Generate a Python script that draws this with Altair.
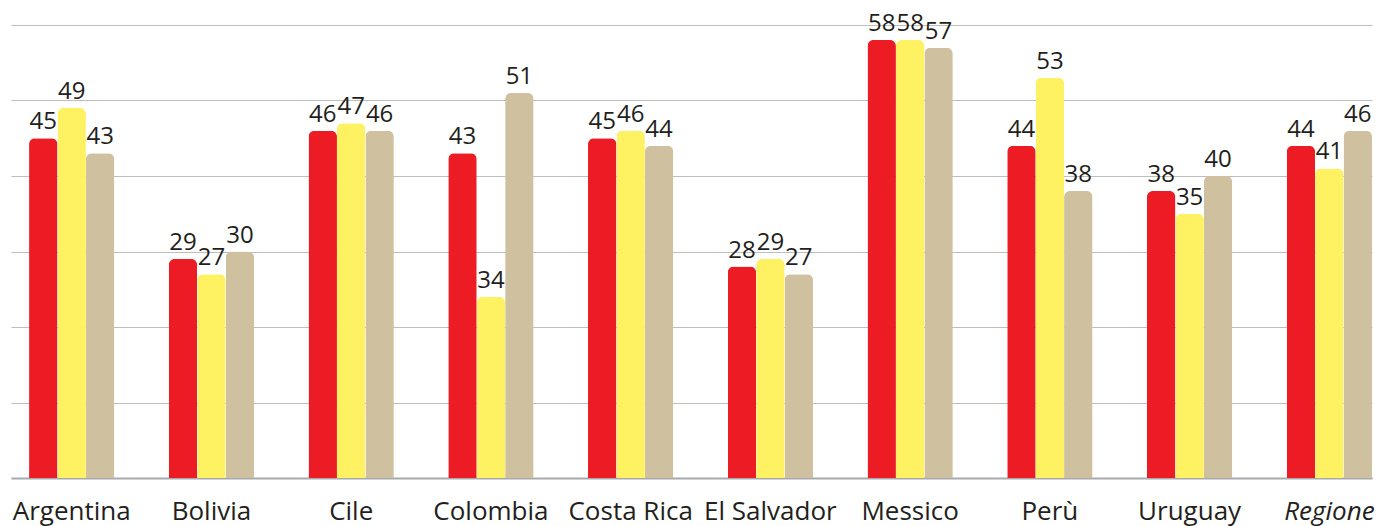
import altair as alt
import pandas as pd

countries = ["Argentina", "Bolivia", "Cile", "Colombia", "Costa Rica",
             "El Salvador", "Messico", "Perù", "Uruguay", "Regione"]
series_names = ["Serie 1", "Serie 2", "Serie 3"]
colors = ["#ED1C24", "#FFF262", "#CFC19F"]

red_vals = [45, 29, 46, 43, 45, 28, 58, 44, 38, 44]
yellow_vals = [49, 27, 47, 24, 46, 29, 58, 53, 35, 41]
tan_vals = [43, 30, 46, 51, 44, 27, 57, 38, 40, 46]

red_labels = ["45", "29", "46", "43", "45", "28", "58", "44", "38", "44"]
yellow_labels = ["49", "27", "47", "34", "46", "29", "58", "53", "35", "41"]
tan_labels = ["43", "30", "46", "51", "44", "27", "57", "38", "40", "46"]

rows = []
for s, vals, labs in zip(series_names, [red_vals, yellow_vals, tan_vals],
                         [red_labels, yellow_labels, tan_labels]):
    for c, v, l in zip(countries, vals, labs):
        rows.append({"country": c, "series": s, "value": v, "label": l})
df = pd.DataFrame(rows)

base = alt.Chart(df).encode(
    x=alt.X(
        "country:N", sort=countries,
        scale=alt.Scale(paddingInner=0.3896, paddingOuter=0.0646, align=1),
        axis=alt.Axis(
            title=None, labelAngle=0, ticks=False, tickSize=0, grid=False,
            domain=True, domainColor="#A7A9AC", domainWidth=2,
            labelFont="Open Sans", labelFontSize=26, labelColor="#231F20",
            labelBaseline="alphabetic", labelPadding=41, labelLimit=300,
            labelFontStyle=alt.condition("datum.value == 'Regione'",
                                         alt.value("italic"), alt.value("normal")),
        ),
    ),
    xOffset=alt.XOffset("series:N", sort=series_names,
                        scale=alt.Scale(paddingInner=0, paddingOuter=0)),
)

bars = base.mark_bar(cornerRadiusTopLeft=6, cornerRadiusTopRight=6).encode(
    y=alt.Y(
        "value:Q", scale=alt.Scale(domain=[0, 60], nice=False),
        axis=alt.Axis(title=None, labels=False, ticks=False, domain=False,
                      grid=True, gridColor="#BCBEC0", gridWidth=1,
                      values=[0, 10, 20, 30, 40, 50, 60]),
    ),
    color=alt.Color("series:N", sort=series_names,
                    scale=alt.Scale(domain=series_names, range=colors), legend=None),
)

text = base.mark_text(baseline="alphabetic", dy=-9, font="Open Sans",
                      fontSize=24, color="#231F20").encode(
    y=alt.Y("value:Q"),
    text="label:N",
)

chart = alt.layer(bars, text).properties(
    width=1361, height=453,
    autosize=alt.AutoSizeParams(type="none"),
    padding={"left": 11, "top": 25, "right": 10, "bottom": 48},
).configure_view(stroke=None)

chart.save("out.html", embed_options={"renderer": "svg", "actions": False})
